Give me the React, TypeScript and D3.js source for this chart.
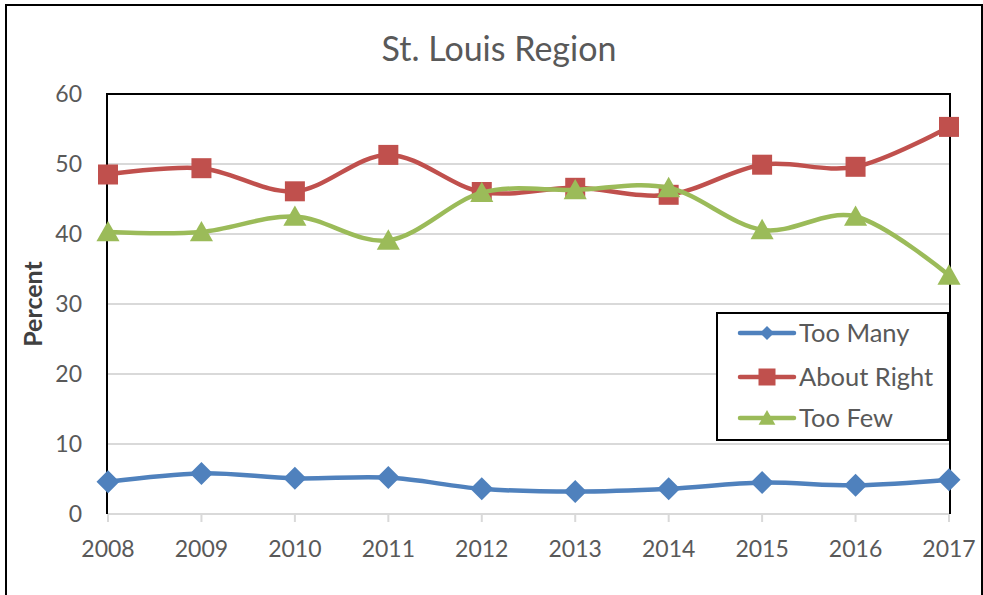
import React from 'react';
import * as d3 from 'd3';

const years = ['2008', '2009', '2010', '2011', '2012', '2013', '2014', '2015', '2016', '2017'];
const tooMany = [4.6, 5.8, 5.1, 5.2, 3.6, 3.2, 3.6, 4.5, 4.1, 4.9];
const aboutRight = [48.5, 49.4, 46.1, 51.3, 46.0, 46.6, 45.6, 49.9, 49.6, 55.3];
const tooFew = [40.3, 40.3, 42.5, 39.1, 45.9, 46.3, 46.6, 40.6, 42.5, 34.1];
const yTicks = [0, 10, 20, 30, 40, 50, 60];

const FONT = 'Lato, "Open Sans", sans-serif';
const TXT = '#595959';

type Shape = 'diamond' | 'square' | 'triangle';

const series: { name: string; values: number[]; color: string; shape: Shape }[] = [
  { name: 'Too Many', values: tooMany, color: '#4F81BD', shape: 'diamond' },
  { name: 'About Right', values: aboutRight, color: '#C0504D', shape: 'square' },
  { name: 'Too Few', values: tooFew, color: '#9BBB59', shape: 'triangle' },
];

function Marker({ shape, x, y, s, color }: { shape: Shape; x: number; y: number; s: number; color: string }) {
  if (shape === 'square') {
    return <rect x={x - s / 2} y={y - s / 2} width={s} height={s} fill={color} />;
  }
  if (shape === 'diamond') {
    const h = s / 2;
    return <path d={`M${x},${y - h}L${x + h},${y}L${x},${y + h}L${x - h},${y}Z`} fill={color} />;
  }
  const h = s / 2;
  return <path d={`M${x},${y - h}L${x + h * 1.05},${y + h * 0.85}L${x - h * 1.05},${y + h * 0.85}Z`} fill={color} />;
}

export default function App() {
  const width = 983;
  const height = 595;
  const left = 108;
  const right = 949;
  const top = 94;
  const bottom = 514;

  const x = d3.scalePoint<string>().domain(years).range([left, right]);
  const y = d3.scaleLinear().domain([0, 60]).range([bottom, top]);

  const line = d3
    .line<number>()
    .x((_, i) => x(years[i]) as number)
    .y((d) => y(d))
    .curve(d3.curveCatmullRom.alpha(0));

  const markerSize: Record<Shape, number> = { diamond: 23, square: 20, triangle: 22 };
  const legendSize: Record<Shape, number> = { diamond: 14, square: 17, triangle: 16 };
  const legendY = [333, 377, 418];

  return (
    <svg
      width={width}
      height={height}
      style={{ position: 'fixed', left: 0, top: 0, background: '#fff', fontFamily: FONT }}
    >
      <rect x={6} y={5} width={976} height={620} fill="#fff" stroke="#000" strokeWidth={2} />

      <text x={499} y={61} textAnchor="middle" fontSize={34} fill={TXT}>
        St. Louis Region
      </text>

      {/* gridlines */}
      {yTicks.filter((t) => t > 0 && t < 60).map((t) => (
        <line key={t} x1={left} x2={right} y1={y(t)} y2={y(t)} stroke="#d9d9d9" strokeWidth={2} />
      ))}

      {/* x axis */}
      <line x1={left} x2={right + 1} y1={bottom} y2={bottom} stroke="#d9d9d9" strokeWidth={2} />
      {years.map((yr) => (
        <line key={yr} x1={x(yr)} x2={x(yr)} y1={bottom} y2={bottom + 8} stroke="#d9d9d9" strokeWidth={2} />
      ))}

      {/* plot border */}
      <path
        d={`M${left - 1},${bottom}V${top}H${right + 1}V${bottom}`}
        fill="none"
        stroke="#000"
        strokeWidth={2}
      />

      {yTicks.map((t) => (
        <text key={t} x={82} y={y(t)} dy="0.35em" textAnchor="end" fontSize={23} fill={TXT}>
          {t}
        </text>
      ))}
      {years.map((yr) => (
        <text key={yr} x={x(yr)} y={557} textAnchor="middle" fontSize={23} fill={TXT}>
          {yr}
        </text>
      ))}

      <text
        transform={`translate(42,${304}) rotate(-90)`}
        textAnchor="middle"
        fontSize={25}
        fontWeight="bold"
        fill="#404040"
      >
        Percent
      </text>

      {series.map((s) => (
        <g key={s.name}>
          <path d={line(s.values) || ''} fill="none" stroke={s.color} strokeWidth={4.5} strokeLinecap="round" />
          {s.values.map((v, i) => (
            <Marker key={i} shape={s.shape} x={x(years[i]) as number} y={y(v)} s={markerSize[s.shape]} color={s.color} />
          ))}
        </g>
      ))}

      {/* legend */}
      <rect x={717} y={313} width={231} height={127} fill="#fff" stroke="#000" strokeWidth={2} />
      {series.map((s, i) => (
        <g key={s.name}>
          <line x1={740} x2={794} y1={legendY[i]} y2={legendY[i]} stroke={s.color} strokeWidth={4.5} strokeLinecap="round" />
          <Marker shape={s.shape} x={767} y={legendY[i]} s={legendSize[s.shape]} color={s.color} />
          <text x={799} y={legendY[i]} dy="0.36em" fontSize={25.5} fill={TXT}>
            {s.name}
          </text>
        </g>
      ))}
    </svg>
  );
}
